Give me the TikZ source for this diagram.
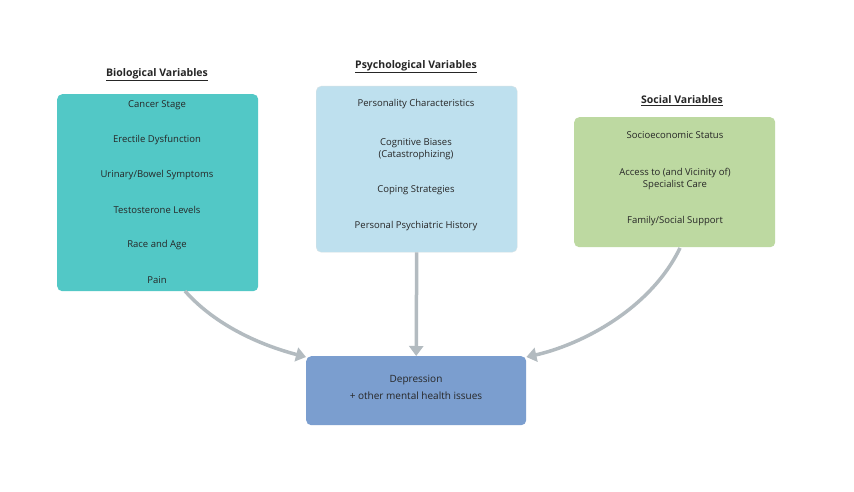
\documentclass[tikz,border=0pt]{standalone}
\usepackage{fontspec}
\setmainfont{Open Sans}
\usetikzlibrary{arrows.meta}
\definecolor{bio}{HTML}{52C8C6}
\definecolor{psy}{HTML}{BEE0EE}
\definecolor{soc}{HTML}{BDD9A1}
\definecolor{dep}{HTML}{7B9ECF}
\definecolor{arr}{HTML}{B3BBC0}
\begin{document}
\begin{tikzpicture}[x=1pt,y=-1pt,
 box/.style={draw=none,rounded corners=5pt,anchor=north west},
 itm/.style={font=\fontsize{9.5}{12}\selectfont,align=center,text=black!85},
 ttl/.style={font=\fontsize{10.5}{12}\selectfont\bfseries,text=black!85},
 ar/.style={draw=arr,line width=3.5pt,-{Triangle[length=10pt,width=14pt]}}]
\useasboundingbox[fill=white] (0,0) rectangle (854,492);
\node[box,fill=bio,minimum width=201pt,minimum height=197pt] (bio) at (57,94) {};
\node[box,fill=psy,draw=psy!80!black!40,minimum width=201pt,minimum height=166pt] (psy) at (316,86) {};
\node[box,fill=soc,minimum width=201pt,minimum height=130pt] (soc) at (574,117) {};
\node[box,fill=dep,minimum width=220pt,minimum height=69pt] (dep) at (306,356) {};
\node[ttl] (t1) at (157,75) {\underline{Biological Variables}};
\node[ttl] (t2) at (416,67) {\underline{Psychological Variables}};
\node[ttl] (t3) at (682,101) {\underline{Social Variables}};
\node[itm] (b1) at (157,105) {Cancer Stage};
\node[itm] (b2) at (157,140) {Erectile Dysfunction};
\node[itm] (b3) at (157,175) {Urinary/Bowel Symptoms};
\node[itm] (b4) at (157,210) {Testosterone Levels};
\node[itm] (b5) at (157,245) {Race and Age};
\node[itm] (b6) at (157,280) {Pain};
\node[itm] (p1) at (416,104) {Personality Characteristics};
\node[itm] (p2) at (416,149) {Cognitive Biases\\(Catastrophizing)};
\node[itm] (p3) at (416,190) {Coping Strategies};
\node[itm] (p4) at (416,226) {Personal Psychiatric History};
\node[itm] (s1) at (675,135) {Socioeconomic Status};
\node[itm] (s2) at (675,179) {Access to (and Vicinity of)\\Specialist Care};
\node[itm] (s3) at (675,221) {Family/Social Support};
\node[itm,font=\fontsize{10}{17}\selectfont] (d) at (416,387) {Depression\\+ other mental health issues};
\coordinate (bs) at (185,291);
\coordinate (ss) at (680,248);
\draw[ar] (bs) .. controls (215,325) and (260,345) .. (dep.north west |- 0,357);
\draw[ar] (psy.south) -- (dep.north);
\draw[ar] (ss) .. controls (650,310) and (580,345) .. (dep.north east |- 0,357);
\end{tikzpicture}
\end{document}
